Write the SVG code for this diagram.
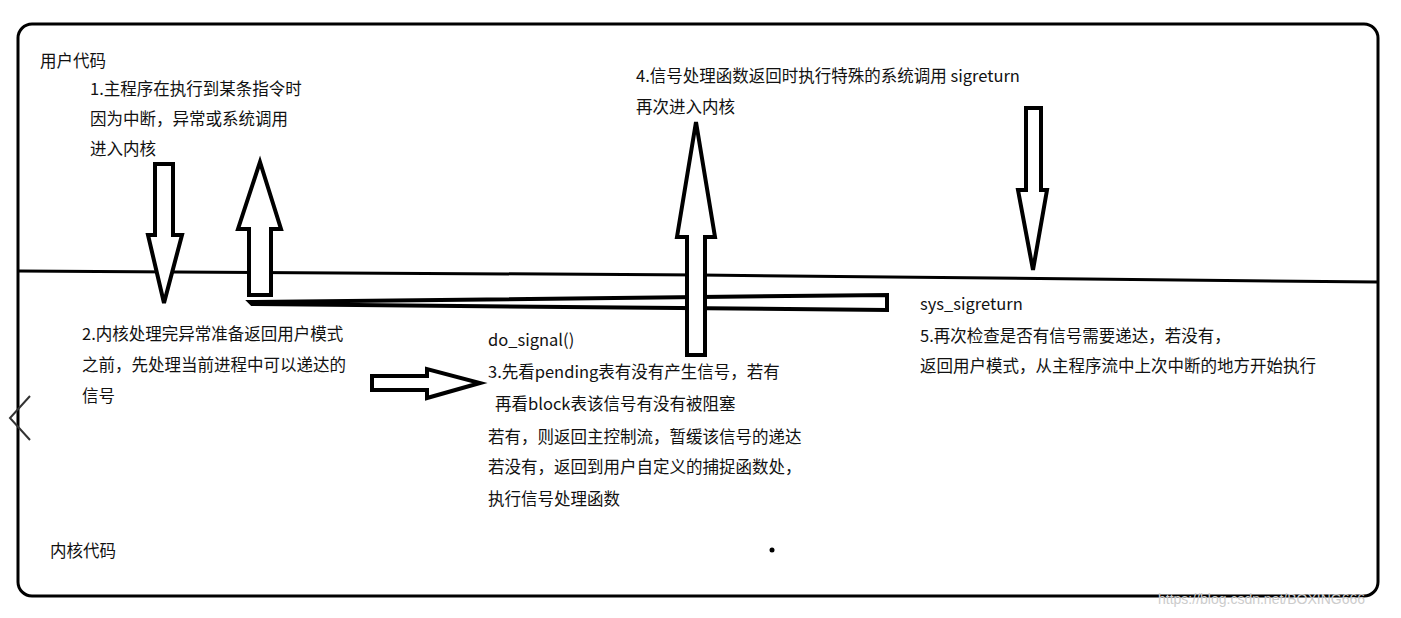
<svg xmlns="http://www.w3.org/2000/svg" width="1401" height="618" viewBox="0 0 1401 618">
<style>
.t{font-family:"Noto Sans CJK SC","Liberation Sans",sans-serif;font-size:16.5px;fill:#111}
.a{fill:#fff;stroke:#000;stroke-width:4;stroke-linejoin:miter}
.l{fill:none;stroke:#000;stroke-width:3}
</style>
<rect width="1401" height="618" fill="#fff"/>
<rect x="18" y="24" width="1360" height="572" rx="14" class="l"/>
<path d="M18 271 L700 275 L1378 282" class="l" stroke-width="3"/>
<path d="M30 396 L10 418 L30 440" fill="none" stroke="#333" stroke-width="2"/>
<g id="connectors">
<polygon class="a" points="155,164 173,164 173,235 182,235 164,303 148,235 155,235"/>
<polygon class="a" points="260,162 281,229 271,229 271,295 249,295 249,229 238,229"/>
<polygon class="a" points="250,302 887,295 887,310 252,304"/>
<polygon class="a" points="372,376 427,376 427,369 480,383 427,398 427,390 372,390"/>
<polygon class="a" points="696,122 715,237 705,237 705,355 687,355 687,237 677,237"/>
<polygon class="a" points="1026,108 1041,108 1041,190 1047,190 1033,270 1018,190 1026,190"/>
</g>
<g id="user"><text class="t" x="40" y="67">用户代码</text></g>
<g id="step1"><text class="t" x="90" y="95">1.主程序在执行到某条指令时</text><text class="t" x="90" y="125">因为中断，异常或系统调用</text><text class="t" x="90" y="155">进入内核</text></g>
<g id="step2"><text class="t" x="82" y="340">2.内核处理完异常准备返回用户模式</text><text class="t" x="82" y="371">之前，先处理当前进程中可以递达的</text><text class="t" x="82" y="402">信号</text></g>
<g id="step3"><text class="t" x="488" y="346">do_signal()</text><text class="t" x="488" y="378">3.先看pending表有没有产生信号，若有</text><text class="t" x="495" y="410">再看block表该信号有没有被阻塞</text><text class="t" x="488" y="443">若有，则返回主控制流，暂缓该信号的递达</text><text class="t" x="488" y="473">若没有，返回到用户自定义的捕捉函数处，</text><text class="t" x="488" y="505">执行信号处理函数</text></g>
<g id="step4"><text class="t" x="636" y="82">4.信号处理函数返回时执行特殊的系统调用 sigreturn</text><text class="t" x="636" y="113">再次进入内核</text></g>
<g id="step5"><text class="t" x="920" y="310">sys_sigreturn</text><text class="t" x="920" y="342">5.再次检查是否有信号需要递达，若没有，</text><text class="t" x="920" y="372">返回用户模式，从主程序流中上次中断的地方开始执行</text></g>
<g id="kernel"><text class="t" x="50" y="557">内核代码</text></g>
<circle cx="772" cy="550" r="2.5" fill="#000"/>
<text x="1158" y="604" font-family="Liberation Sans,sans-serif" font-size="14" fill="#ccc">https://blog.csdn.net/BOXING666</text>
</svg>
